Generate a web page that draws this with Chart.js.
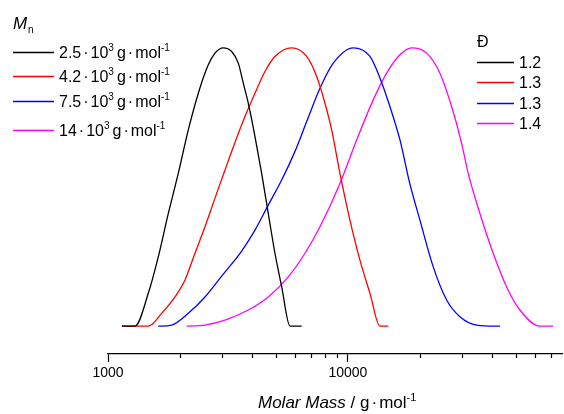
<!DOCTYPE html>
<html>
<head>
<meta charset="utf-8">
<script src="https://cdn.jsdelivr.net/npm/chart.js@4/dist/chart.umd.min.js"></script>
<style>
  body { margin: 0; background: #fff; }
  #wrap { width: 564px; height: 414px; position: relative; }
</style>
</head>
<body>
<div id="wrap"><canvas id="myChart"></canvas></div>
<script>
// molar mass (g/mol) and normalised signal
var massBlack = [1144, 1296, 1472, 1620, 1784, 1963, 2161, 2379, 2618, 2792, 3023, 3277, 3491, 3663, 3842, 4098, 4369, 4655, 4964, 5294, 5733, 6413];
var signalBlack = [0, 0, 0.118, 0.249, 0.405, 0.549, 0.705, 0.837, 0.939, 0.981, 1, 0.987, 0.945, 0.873, 0.801, 0.681, 0.549, 0.405, 0.262, 0.142, 0, 0];

var massRed = [1141, 1472, 1674, 1902, 2094, 2304, 2536, 2792, 3073, 3382, 3722, 4098, 4510, 4964, 5828, 6730, 7407, 8021, 8553, 9261, 10194, 11220, 12350, 13594, 14723];
var signalRed = [0, 0, 0.046, 0.105, 0.166, 0.262, 0.357, 0.46, 0.561, 0.66, 0.753, 0.837, 0.915, 0.969, 1, 0.969, 0.897, 0.801, 0.705, 0.549, 0.381, 0.237, 0.118, 0, 0];

var massBlue = [1620, 1842, 2161, 2536, 2977, 3606, 4098, 4655, 5294, 6015, 6730, 7645, 8686, 10522, 12350, 13594, 14962, 16474, 18133, 19953, 22670, 25784, 29286, 34393, 42987];
var signalBlue = [0, 0.004, 0.046, 0.105, 0.18, 0.27, 0.345, 0.435, 0.525, 0.628, 0.735, 0.855, 0.945, 1, 0.969, 0.892, 0.789, 0.669, 0.51, 0.381, 0.213, 0.094, 0.034, 0.004, 0];

var massMagenta = [2128, 2536, 3073, 3842, 4655, 5641, 6622, 7645, 9261, 10872, 12747, 14500, 16474, 18427, 21281, 24174, 27045, 29771, 31715, 35481, 40309, 45846, 52085, 63096, 71680];
var signalMagenta = [0, 0.004, 0.022, 0.058, 0.105, 0.177, 0.262, 0.357, 0.513, 0.669, 0.813, 0.909, 0.975, 1, 0.981, 0.909, 0.789, 0.657, 0.549, 0.405, 0.262, 0.141, 0.058, 0, 0];

var mnLabels = ['2.5', '4.2', '7.5', '14'];
var dispersity = ['1.2', '1.3', '1.3', '1.4'];
var colors = ['#000000', '#ff0000', '#0000ff', '#ff00ff'];

var tickValues = [1000, 2000, 3000, 4000, 5000, 6000, 7000, 8000, 9000, 10000, 20000, 30000, 40000, 50000, 60000, 70000];
var majorTicks = [1000, 10000];

var FONT = '"Liberation Sans", Arial, sans-serif';

function pts(xs, ys) {
  return xs.map(function (x, i) { return { x: x, y: ys[i] }; });
}

function series(xs, ys, col) {
  return {
    data: pts(xs, ys),
    borderColor: col,
    borderWidth: 1.3,
    pointRadius: 0,
    fill: false,
    cubicInterpolationMode: 'monotone'
  };
}

// draws runs of text (normal / italic / raised), returns end x
function textSup(ctx, parts, x, y) {
  parts.forEach(function (p) {
    ctx.font = (p.italic ? 'italic ' : '') + p.size + 'px ' + FONT;
    ctx.fillText(p.t, x, y - (p.rise || 0));
    x += ctx.measureText(p.t).width + (p.gap || 0);
  });
  return x;
}

// "g·mol" with a bit of room round the dot
function unitParts(size, sup) {
  return [
    { t: 'g', size: size, gap: 2 },
    { t: '·', size: size, gap: 2 },
    { t: 'mol', size: size },
    { t: '-1', size: sup, rise: 7 }
  ];
}

var extrasPlugin = {
  id: 'extras',
  afterDraw: function (chart) {
    var ctx = chart.ctx;
    var xs = chart.scales.x;
    var bottom = chart.chartArea.bottom;
    ctx.save();
    ctx.strokeStyle = '#000';
    ctx.lineWidth = 1.2;
    // minor ticks
    tickValues.forEach(function (v) {
      if (majorTicks.indexOf(v) >= 0) return;
      var px = Math.round(xs.getPixelForValue(v)) + 0.5;
      ctx.beginPath();
      ctx.moveTo(px, bottom);
      ctx.lineTo(px, bottom + 4);
      ctx.stroke();
    });

    ctx.fillStyle = '#000';
    ctx.textBaseline = 'alphabetic';
    ctx.textAlign = 'left';

    // left legend: Mn
    textSup(ctx, [{ t: 'M', size: 17, italic: true }], 13, 29);
    textSup(ctx, [{ t: 'n', size: 10 }], 28, 33);
    var rowsL = [52, 76, 101, 130];
    rowsL.forEach(function (y, i) {
      ctx.strokeStyle = colors[i];
      ctx.lineWidth = 1.3;
      ctx.beginPath();
      ctx.moveTo(13, y + 0.5);
      ctx.lineTo(54, y + 0.5);
      ctx.stroke();
      ctx.fillStyle = '#000';
      var x = textSup(ctx, [{ t: mnLabels[i], size: 16, gap: 2 }, { t: '·', size: 16, gap: 2 }, { t: '10', size: 16 },
        { t: '3', size: 10, rise: 7, gap: 3 }], 59, y + 6);
      textSup(ctx, unitParts(16, 10), x, y + 6);
    });

    // right legend: dispersity
    textSup(ctx, [{ t: 'Đ', size: 16 }], 477, 47);
    var rowsR = [62, 82, 103, 123];
    rowsR.forEach(function (y, i) {
      ctx.strokeStyle = colors[i];
      ctx.lineWidth = 1.3;
      ctx.beginPath();
      ctx.moveTo(477, y + 0.5);
      ctx.lineTo(514, y + 0.5);
      ctx.stroke();
      ctx.fillStyle = '#000';
      textSup(ctx, [{ t: dispersity[i], size: 16 }], 519, y + 6);
    });

    // x axis title
    var tx = textSup(ctx, [
      { t: 'Molar Mass', size: 17, italic: true },
      { t: ' / ', size: 17 }
    ], 258, 408);
    textSup(ctx, unitParts(17, 11), tx, 408);
    ctx.restore();
  }
};

var ctx = document.getElementById('myChart').getContext('2d');
var myChart = new Chart(ctx, {
  type: 'line',
  data: {
    datasets: [
      series(massBlack, signalBlack, colors[0]),
      series(massRed, signalRed, colors[1]),
      series(massBlue, signalBlue, colors[2]),
      series(massMagenta, signalMagenta, colors[3])
    ]
  },
  options: {
    responsive: true,
    maintainAspectRatio: false,
    animation: false,
    layout: { padding: { left: 108, right: 2, top: 20, bottom: 0 } },
    plugins: {
      legend: { display: false },
      tooltip: { enabled: false }
    },
    scales: {
      x: {
        type: 'logarithmic',
        min: 1000,
        max: 78000,
        afterFit: function (s) { s.height = 60; },
        afterBuildTicks: function (s) {
          s.ticks = tickValues.map(function (v) {
            return { value: v, major: majorTicks.indexOf(v) >= 0 };
          });
        },
        border: { display: true, color: '#000', width: 1.3 },
        grid: {
          drawOnChartArea: false,
          drawTicks: true,
          tickLength: 8,
          tickWidth: 1.2,
          tickColor: function (c) {
            return c.tick && majorTicks.indexOf(c.tick.value) >= 0 ? '#000' : 'rgba(0,0,0,0)';
          }
        },
        ticks: {
          autoSkip: false,
          maxRotation: 0,
          padding: 3,
          color: '#000',
          font: { family: FONT, size: 14 },
          callback: function (v) {
            return majorTicks.indexOf(v) >= 0 ? String(v) : '';
          }
        }
      },
      y: {
        display: false,
        min: -0.1,
        max: 1.1
      }
    }
  },
  plugins: [extrasPlugin]
});
</script>
</body>
</html>
